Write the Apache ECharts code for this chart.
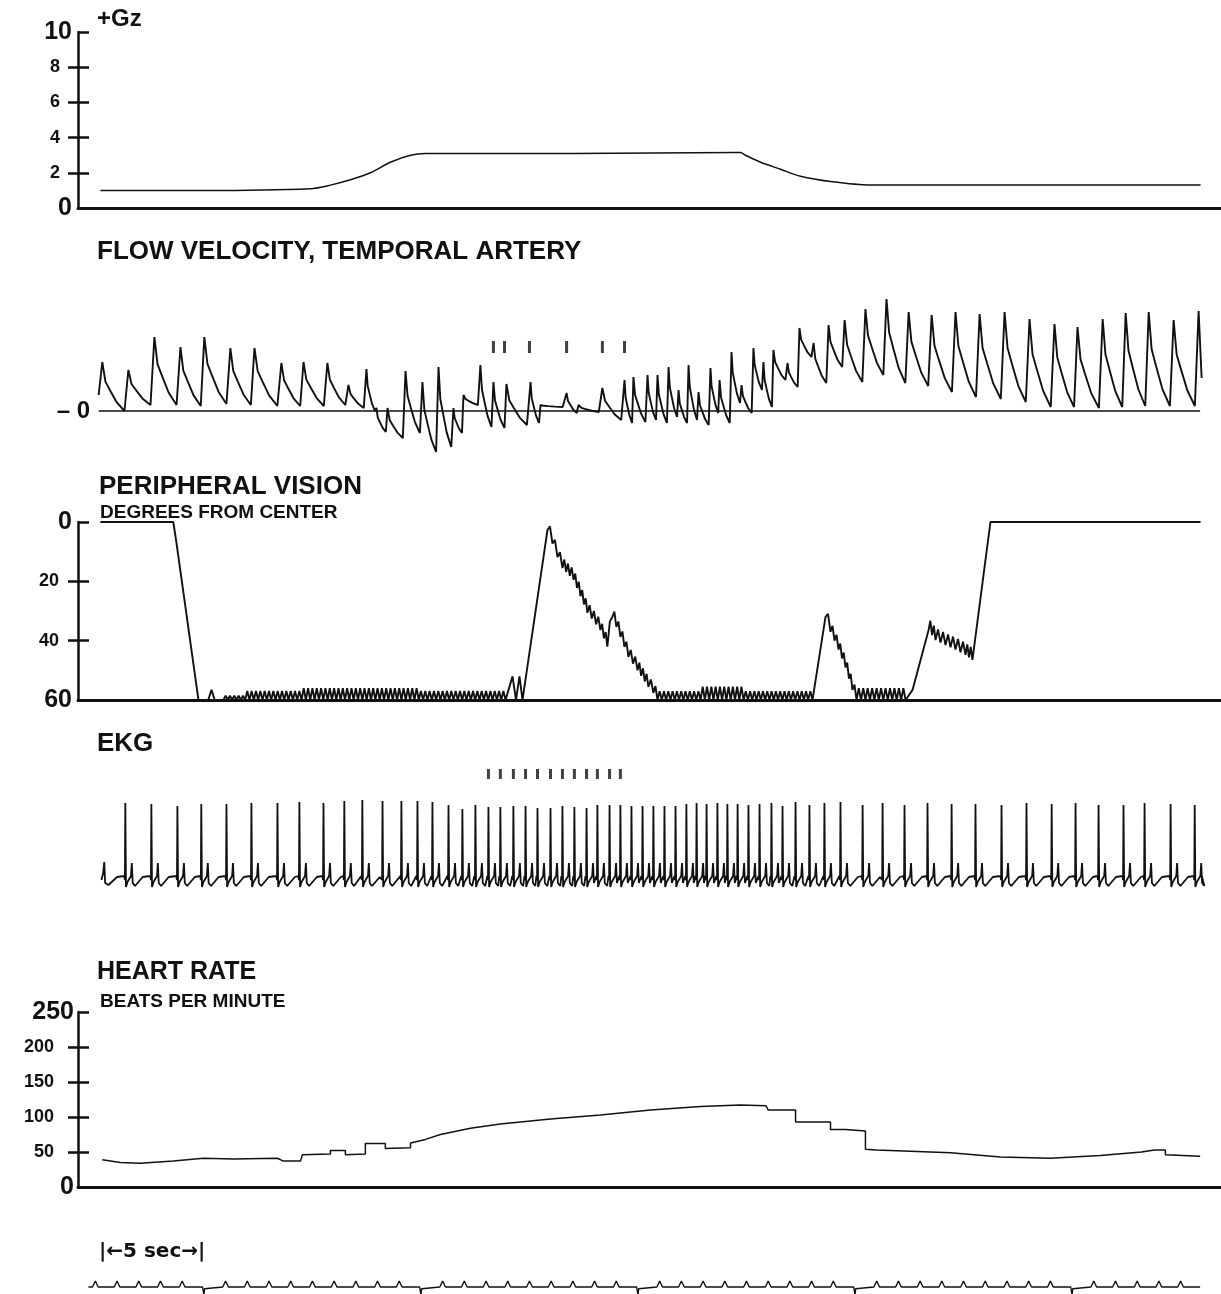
<!DOCTYPE html>
<html>
<head>
<meta charset="utf-8">
<script src="https://cdn.jsdelivr.net/npm/echarts@6/dist/echarts.min.js"></script>
<style>
html, body { margin: 0; padding: 0; background: #fff; }
#chart { width: 1221px; height: 1294px; }
</style>
</head>
<body>
<div id="chart"></div>
<script>
// time axis in seconds for every strip

// +Gz, g units
var gzData = [[0.23,1.0],[5,1.0],[9.91,1.1],[10.83,1.3],[11.75,1.6],[12.67,2.0],[13.59,2.6],[14.52,3.0],[15.21,3.1],[22,3.1],[29.5,3.15],[29.72,3.15],[29.95,3.0],[30.65,2.6],[31.57,2.2],[32.49,1.8],[33.87,1.5],[35.71,1.3],[50.92,1.3]];

// flow velocity, one entry per pulse: [time of peak, peak, trough after it] (arbitrary units)
var flowBeats = [
  [0.32,4.9,0.0],[1.52,4.1,0.6],[2.72,7.4,0.6],[3.92,6.4,0.5],[5.02,7.4,0.7],[6.22,6.3,0.6],[7.33,6.3,0.5],[8.57,4.8,0.5],[9.59,4.9,0.5],[10.69,4.8,0.6],[11.66,2.6,0.3],[12.49,4.2,0.0],
  [12.95,0.3,-2.1],[13.46,0.3,-2.7],[14.29,4.0,-2.2],[15.07,2.9,-4.1],[15.81,4.4,-3.6],[16.50,0.3,-2.2],[16.96,1.6,0.6],[17.74,4.6,-1.6],[18.34,2.9,-1.7],[18.94,2.7,-1.4],[20.05,2.9,-1.2],[20.51,0.6,0.4],
  [21.71,1.8,-0.2],[22.26,0.6,-0.1],[23.36,2.3,-0.9],[24.38,3.1,-1.2],[24.79,3.4,-1.1],[25.44,3.6,-0.9],[25.90,3.6,-1.2],[26.41,4.4,-0.6],[26.87,2.1,-1.2],[27.33,4.6,-0.9],[27.79,1.9,-1.4],[28.34,4.3,-0.2],
  [28.76,3.1,-1.2],[29.31,5.9,0.8],[29.77,2.6,-0.2],[30.32,6.3,2.1],[30.78,4.9,0.4],[31.24,6.1,3.1],[31.89,4.8,2.4],[32.44,8.3,5.4],[33.09,6.8,2.8],[33.78,8.6,4.4],[34.52,9.1,2.9],[35.48,10.2,3.6],
  [36.45,11.2,2.8],[37.47,9.9,2.5],[38.53,9.6,1.9],[39.63,9.9,1.4],[40.74,9.7,1.2],[41.89,9.9,0.9],[43.04,9.2,0.4],[44.19,8.7,0.4],[45.25,8.4,0.3],[46.41,9.2,0.4],[47.47,9.8,0.5],[48.53,9.9,0.5],
  [49.68,9.1,0.5],[50.83,10.0,0.5]
];
var flowStart = [0.15, 1.6];
var flowEnd = [50.97, 3.3];
// shape of one pulse between peaks: [fraction of interval, fraction of peak-trough]
var flowShape = [[0.06,0.8],[0.12,0.6],[0.18,0.62],[0.3,0.42],[0.55,0.18],[0.85,0]];
var flowMarks = [18.34,18.85,20.0,21.71,23.36,24.38];

// peripheral vision, degrees from center
var visionPts = [[0.23,0],[3.59,0],[3.73,6.7],[4.75,60],[5.2,60],[5.35,56.6],[5.5,60],[18.9,60],[19.22,52],[19.38,60],[19.54,52],[19.68,60],
  [20.83,2.7],[21.29,11.8],[21.52,15.5],[22.03,19.5],[22.35,25],[22.67,30.6],[23.27,36.4],[23.59,42],[23.82,32],[24.19,38.7],[24.56,45.5],[24.98,50],[25.48,55.6],[25.71,57.6],[25.9,60],
  [33.04,60],[33.64,32],[33.87,37],[34.24,43],[34.56,49],[34.88,56.6],[35.07,60],[37.33,60],[37.65,56.6],[37.93,49],[38.39,36.4],[38.71,39.8],[39.17,41.5],[39.63,43],[40.09,44.8],[40.41,46.5],
  [41.24,0],[50.92,0]];
// jagged texture on the vision trace: [from, to, tooth height in degrees]
var visionTeeth = [[5.9,6.9,1.5],[6.9,9.45,3],[9.45,15.0,4],[15.0,18.9,3],[20.9,25.9,3.5],[25.9,27.9,3],[27.9,29.8,4.5],[29.8,33.0,3],[33.6,35.07,3.5],[35.07,37.33,4],[38.4,40.41,4]];
var toothPeriod = 0.2;

// EKG: R wave times and heights
var ekgBeats = [1.38,2.58,3.78,4.88,6.04,7.19,8.39,9.40,10.51,11.47,12.30,13.23,14.10,14.84,15.53,16.27,16.91,17.51,
  18.11,18.66,19.26,19.82,20.37,20.97,21.52,22.07,22.63,23.13,23.69,24.19,24.70,25.21,25.71,26.22,26.73,27.23,27.70,28.16,28.66,29.12,29.59,30.09,30.60,31.15,31.66,32.26,32.90,33.59,34.33,
  35.35,36.27,37.28,38.34,39.45,40.55,41.75,42.90,44.06,45.16,46.22,47.37,48.34,49.54,50.65];
var ekgR = [7.5,7.4,7.2,7.4,7.4,7.5,7.5,7.6,7.5,7.7,7.8,7.7,7.7,7.7,7.6,7.3,6.9,7.3,
  7.1,7.1,7.2,7.2,7.0,7.0,7.2,7.1,7.0,7.3,7.3,7.3,7.2,7.2,7.2,7.2,7.2,7.4,7.5,7.4,7.5,7.4,7.4,7.3,7.4,7.5,7.2,7.6,7.3,7.5,7.6,
  7.3,7.5,7.3,7.5,7.4,7.4,7.3,7.5,7.4,7.5,7.3,7.3,7.5,7.4,7.3];
// one complex around the R wave: [seconds from R, value]; null = R height
var ekgShape = [[-0.05,0.2],[-0.02,-0.2],[0,null],[0.03,-0.9],[0.1,-0.4],[0.26,0.2],[0.3,1.5],[0.34,-0.5],[0.45,-0.8],[0.8,0.1]];
var ekgStart = [[0.28,-0.2],[0.36,0.5],[0.41,1.6],[0.45,-0.5],[0.6,-0.7],[1.0,0.1]];
var ekgEnd = [50.95, 0.4];
var ekgMarks = [18.11,18.66,19.26,19.82,20.37,20.97,21.52,22.07,22.63,23.13,23.69,24.19];

// heart rate, beats per minute
var hrData = [[0.32,39],[1.15,35],[2.07,34],[3.59,37],[4.98,41],[6.36,40],[8.39,41],[8.66,37],[9.45,37],[9.54,46],[10.83,47],[10.83,52],[11.52,52],[11.52,46],[12.44,47],[12.44,62],
  [13.36,62],[13.36,55],[14.52,56],[14.52,63],[15.21,68],[15.9,75],[17.28,84],[18.66,90],[20.97,97],[23.27,103],[25.58,110],[27.88,115],[29.72,117],[30.9,116],[31.0,110],
  [32.26,110],[32.26,93],[33.87,93],[33.87,82],[34.56,82],[34.56,80],[35.48,80],[35.48,54],[36.0,53],[39.4,49],[41.7,43],[44.0,41],[46.3,45],[48.2,50],[48.8,53],[49.3,53],[49.3,46],[50.9,44]];

// timing trace: a blip every second, a downward mark every ten
var timeSeconds = [0,1,2,3,4,5,6,7,8,9,10,11,12,13,14,15,16,17,18,19,20,21,22,23,24,25,26,27,28,29,30,31,32,33,34,35,36,37,38,39,40,41,42,43,44,45,46,47,48,49,50];
var dipSeconds = [5,15,25,35,45];

var gzTicks = [0,2,4,6,8,10];
var visionTicks = [0,20,40,60];
var hrTicks = [0,50,100,150,200,250];

function buildFlow() {
  var pts = [flowStart.slice()];
  for (var i = 0; i < flowBeats.length; i++) {
    var b = flowBeats[i];
    pts.push([b[0], b[1]]);
    if (i === flowBeats.length - 1) break;
    var d = flowBeats[i + 1][0] - b[0];
    flowShape.forEach(function (s) {
      pts.push([b[0] + s[0] * d, b[2] + s[1] * (b[1] - b[2])]);
    });
  }
  pts.push(flowEnd.slice());
  return pts;
}

function buildEkg() {
  var pts = ekgStart.map(function (p) { return p.slice(); });
  for (var i = 0; i < ekgBeats.length; i++) {
    var t = ekgBeats[i];
    var rr = i < ekgBeats.length - 1 ? ekgBeats[i + 1] - t : 0.8;
    ekgShape.forEach(function (s) {
      if (s[0] < rr - 0.07) pts.push([t + s[0], s[1] === null ? ekgR[i] : s[1]]);
    });
  }
  pts.push(ekgEnd.slice());
  return pts;
}

function toothAmp(t) {
  for (var i = 0; i < visionTeeth.length; i++) {
    if (t >= visionTeeth[i][0] && t < visionTeeth[i][1]) return visionTeeth[i][2];
  }
  return 0;
}

function buildVision() {
  var pts = [];
  for (var i = 0; i < visionPts.length - 1; i++) {
    var a = visionPts[i], b = visionPts[i + 1];
    var dt = b[0] - a[0];
    var n = Math.max(1, Math.round(dt / toothPeriod));
    var step = dt / n;
    for (var k = 0; k < n; k++) {
      pts.push([a[0] + k * step, a[1] + (b[1] - a[1]) * k / n]);
      var amp = toothAmp(a[0] + (k + 0.5) * step);
      if (amp > 0) {
        pts.push([a[0] + (k + 0.5) * step, a[1] + (b[1] - a[1]) * (k + 0.5) / n - amp]);
      }
    }
  }
  pts.push(visionPts[visionPts.length - 1].slice());
  return pts;
}

function buildTiming() {
  var pts = [[-0.32, 0]];
  timeSeconds.forEach(function (s) {
    if (dipSeconds.indexOf(s) >= 0) {
      pts.push([s - 0.06, 0], [s - 0.03, -0.3], [s, -1.3], [s + 0.03, -0.3], [s + 0.08, 0]);
    } else {
      pts.push([s - 0.13, 0], [s, 1], [s + 0.13, 0]);
    }
  });
  pts.push([50.9, 0]);
  return pts;
}

var FONT = '"Liberation Sans", Arial, sans-serif';
var INK = '#111';

function xAxis(grid, line) {
  return {
    type: 'value', gridIndex: grid, min: -0.8, max: 52,
    axisLine: { show: line, onZero: false, lineStyle: { color: INK, width: 3 } },
    axisTick: { show: false }, axisLabel: { show: false }, splitLine: { show: false }
  };
}

function yLabelled(grid, min, max, interval, inverse, labels, outTicks, bigVals, pad, margin) {
  return {
    type: 'value', gridIndex: grid, position: 'left', min: min, max: max, interval: interval, inverse: inverse,
    axisLine: { show: true, onZero: false, lineStyle: { color: INK, width: 2.5 } },
    axisTick: { show: true, inside: false, length: 10, customValues: outTicks, lineStyle: { color: INK, width: 2.5 } },
    axisLabel: {
      customValues: labels, margin: margin,
      formatter: function (v) { return bigVals.indexOf(v) >= 0 ? '{b|' + v + '}' : '{s|' + v + '}'; },
      rich: {
        b: { fontFamily: FONT, fontWeight: 'bold', fontSize: 25, color: INK },
        s: { fontFamily: FONT, fontWeight: 'bold', fontSize: 18, color: INK, padding: [0, pad, 0, 0] }
      }
    },
    splitLine: { show: false }
  };
}

function yInner(grid, min, max, interval, inverse, ticks) {
  return {
    type: 'value', gridIndex: grid, position: 'left', min: min, max: max, interval: interval, inverse: inverse,
    axisLine: { show: false, onZero: false },
    axisTick: { show: true, inside: true, length: 11, customValues: ticks, lineStyle: { color: INK, width: 2.5 } },
    axisLabel: { show: false }, splitLine: { show: false }
  };
}

function yHidden(grid, min, max) {
  return {
    type: 'value', gridIndex: grid, position: 'left', min: min, max: max,
    axisLine: { show: false }, axisTick: { show: false }, axisLabel: { show: false }, splitLine: { show: false }
  };
}

function title(text, left, top, size) {
  return { type: 'text', left: left, top: top, style: { text: text, fill: INK, font: 'bold ' + size + 'px ' + FONT } };
}

function line(x, y, data, width, smooth) {
  return {
    type: 'line', xAxisIndex: x, yAxisIndex: y, data: data, symbol: 'none', smooth: smooth || false,
    lineStyle: { color: INK, width: width }, silent: true
  };
}

function grid(top, height) {
  return { left: 78, top: top, width: 1146, height: height, containLabel: false, outerBoundsMode: 'none' };
}

var chart = echarts.init(document.getElementById('chart'));

var flowZero = yHidden(1, -5, 12);
flowZero.axisLabel = {
  show: true, customValues: [0], margin: -12, formatter: function () { return '\u2013 0'; },
  fontFamily: FONT, fontWeight: 'bold', fontSize: 24, color: INK
};

var option = {
  backgroundColor: '#fff',
  animation: false,
  grid: [grid(32, 176), grid(291, 170), grid(522, 178), grid(768, 140), grid(1012, 175), grid(1269, 30)],
  xAxis: [xAxis(0, true), xAxis(1, false), xAxis(2, true), xAxis(3, false), xAxis(4, true), xAxis(5, false)],
  yAxis: [
    yLabelled(0, 0, 10, 2, false, gzTicks, [2, 4, 6, 8], [0, 10], 12, 6),
    yInner(0, 0, 10, 2, false, [2, 4, 6, 8, 10]),
    flowZero,
    yLabelled(2, 0, 60, 20, true, visionTicks, [20, 40], [0, 60], 13, 6),
    yInner(2, 0, 60, 20, true, [0, 20, 40]),
    yHidden(3, -3, 11),
    yLabelled(4, 0, 250, 50, false, hrTicks, [50, 100, 150, 200], [0, 250], 20, 4),
    yInner(4, 0, 250, 50, false, [50, 100, 150, 200, 250]),
    yHidden(5, -2, 3)
  ],
  graphic: [
    title('+Gz', 97, 7, 24),
    title('FLOW VELOCITY, TEMPORAL ARTERY', 97, 239, 26),
    title('PERIPHERAL VISION', 99, 474, 26),
    title('DEGREES FROM CENTER', 100, 503, 19),
    title('EKG', 97, 731, 26),
    title('HEART RATE', 97, 960, 25),
    title('BEATS PER MINUTE', 100, 992, 19),
    { type: 'text', left: 99, top: 1242, style: { text: '|\u21905 sec\u2192|', fill: INK, font: 'bold 20px "DejaVu Sans", sans-serif' } }
  ],
  series: [
    line(0, 0, gzData, 1.5, 0.3),
    line(1, 2, [[0.15, 0], [50.9, 0]], 1.6),
    line(1, 2, buildFlow(), 1.9),
    {
      type: 'scatter', xAxisIndex: 1, yAxisIndex: 2, symbol: 'rect', symbolSize: [3, 12], silent: true,
      itemStyle: { color: INK }, data: flowMarks.map(function (t) { return [t, 6.4]; })
    },
    line(2, 3, buildVision(), 1.9),
    line(3, 5, buildEkg(), 1.8),
    {
      type: 'scatter', xAxisIndex: 3, yAxisIndex: 5, symbol: 'rect', symbolSize: [3, 10], silent: true,
      itemStyle: { color: INK }, data: ekgMarks.map(function (t) { return [t, 10.4]; })
    },
    line(4, 6, hrData, 1.5),
    line(5, 8, buildTiming(), 1.4)
  ]
};

chart.setOption(option);
</script>
</body>
</html>
